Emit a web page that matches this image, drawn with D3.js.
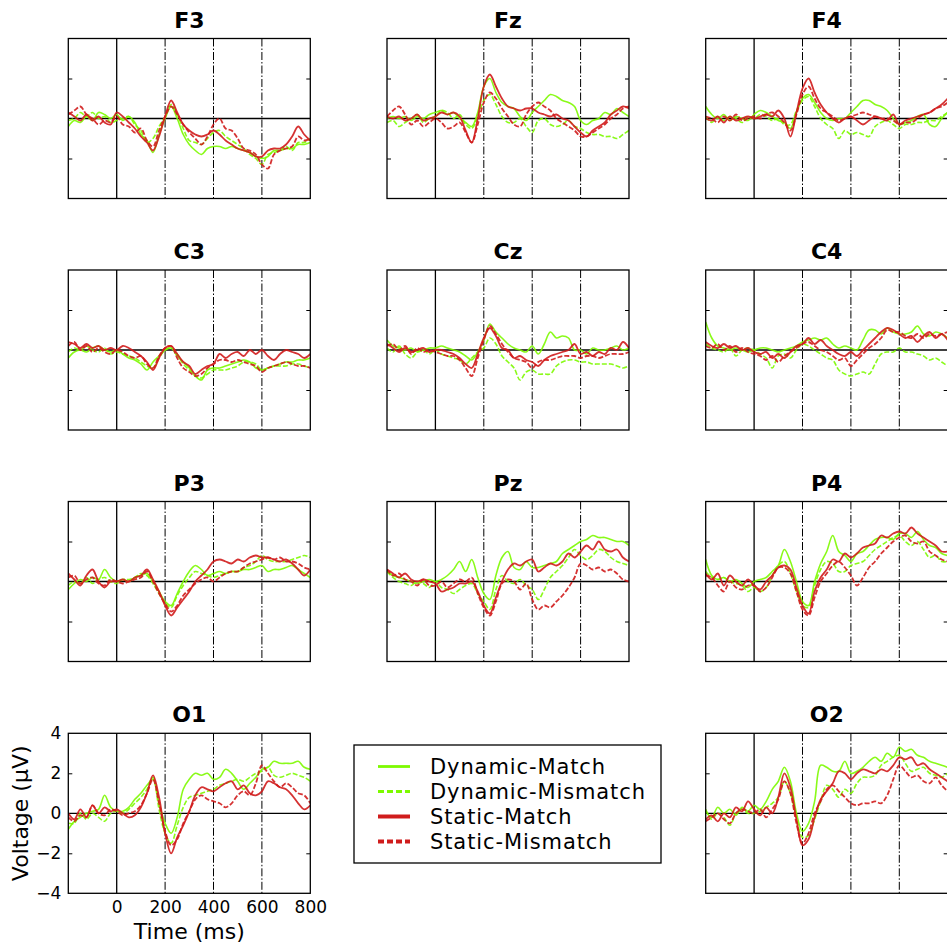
<!DOCTYPE html>
<html>
<head>
<meta charset="utf-8">
<script src="https://cdn.jsdelivr.net/npm/d3@7/dist/d3.min.js"></script>
<style>
  body { margin: 0; background: #fff; }
  svg { display: block; font-family: "DejaVu Sans", sans-serif; }
</style>
</head>
<body>
<div id="chart"></div>
<script>
// time axis (ms), one sample every 25 ms
const times = [-200,-175,-150,-125,-100,-75,-50,-25,0,25,50,75,100,125,150,175,200,225,250,275,300,
  325,350,375,400,425,450,475,500,525,550,575,600,625,650,675,700,725,750,775,800];

const conditions = ["Dynamic-Match", "Dynamic-Mismatch", "Static-Match", "Static-Mismatch"];
const xTicks = [0, 200, 400, 600, 800];
const yTicks = [-4, -2, 0, 2, 4];

// F3
const f3DM  = [-0.4,-0.1,-0.2,0.1,-0.1,0.3,0.2,0.0,0.2,-0.1,0.1,-0.2,-0.8,-1.1,-1.7,-0.8,0.0,0.6,0.0,-0.8,-1.3,-1.6,-1.8,-1.5,-1.4,-1.4,-1.5,-1.4,-1.5,-1.6,-1.7,-1.9,-2.0,-1.9,-1.6,-1.6,-1.5,-1.5,-1.3,-1.3,-1.2];
const f3DMM = [-0.1,0.0,0.3,0.1,0.3,0.0,0.1,-0.2,-0.1,0.0,0.1,-0.3,-0.6,-1.2,-1.0,-0.4,0.1,0.7,0.2,-0.5,-1.1,-1.2,-1.3,-1.0,-0.7,-0.6,-0.9,-1.1,-1.3,-1.5,-1.8,-2.0,-2.3,-1.8,-1.7,-1.6,-1.4,-1.6,-1.2,-1.2,-1.0];
const f3SM  = [0.3,0.1,-0.1,0.2,-0.1,0.1,-0.2,-0.3,0.3,0.1,-0.2,-0.5,-0.9,-1.2,-1.6,-0.9,0.1,0.9,0.3,-0.3,-0.6,-0.8,-0.9,-0.8,-0.6,-0.8,-1.1,-1.3,-1.5,-1.6,-1.7,-1.9,-1.9,-1.6,-1.5,-1.5,-1.3,-0.9,-0.4,-0.8,-1.1];
const f3SMM = [0.2,0.4,0.6,0.2,0.0,-0.3,-0.1,-0.2,0.1,-0.3,-0.4,-0.7,-0.5,-1.1,-1.4,-0.6,0.1,0.6,0.2,-0.3,-0.7,-1.0,-1.3,-0.9,-0.3,0.0,-0.5,-0.6,-1.0,-1.5,-1.6,-1.8,-2.3,-2.5,-1.8,-1.6,-1.5,-1.4,-0.9,-1.1,-1.0];
// Fz
const fzDM  = [0.0,0.1,0.0,0.1,-0.1,0.1,0.0,0.2,0.3,0.4,0.2,0.3,0.0,-0.2,-0.4,0.3,1.6,2.0,1.3,0.8,0.6,0.5,0.1,-0.1,0.3,0.6,0.9,1.2,1.1,0.9,0.8,0.6,-0.1,-0.3,-0.1,0.0,0.3,0.2,0.5,0.3,0.1];
const fzDMM = [-0.2,-0.1,-0.4,-0.2,0.0,0.2,-0.2,0.0,0.1,0.4,0.3,0.0,0.2,-0.3,-0.5,0.1,0.9,1.2,0.7,0.1,-0.2,-0.2,0.0,-0.4,-0.7,-0.1,0.0,-0.3,-0.4,-0.3,-0.1,-0.4,-0.5,-0.7,-0.8,-0.8,-0.9,-0.9,-1.0,-0.8,-0.6];
const fzSM  = [0.1,0.0,0.1,-0.1,0.0,0.2,-0.1,0.0,0.1,0.3,0.2,0.3,0.1,-0.6,-1.2,0.0,1.6,2.2,1.6,1.0,0.6,0.5,0.4,0.5,0.5,0.3,0.2,0.1,0.2,0.0,-0.1,-0.4,-0.7,-0.9,-0.6,-0.4,-0.2,0.2,0.4,0.6,0.5];
const fzSMM = [0.1,0.4,0.6,0.2,-0.3,-0.1,-0.4,-0.2,0.0,-0.2,-0.5,-0.4,-0.2,-0.7,-1.2,-0.3,0.8,1.3,1.0,0.5,0.1,-0.3,-0.4,0.2,0.6,0.8,0.6,0.4,0.0,-0.2,-0.4,-0.6,-0.9,-0.9,-0.7,-0.5,-0.3,0.0,0.2,0.5,0.6];
// F4
const f4DM  = [0.6,0.2,0.0,0.2,-0.1,0.1,0.0,-0.1,0.2,0.4,0.3,0.1,-0.1,-0.2,-0.5,0.3,1.0,1.2,0.8,0.3,0.0,-0.1,0.0,0.0,0.3,0.6,0.9,0.9,0.7,0.6,0.4,0.0,-0.3,-0.2,-0.1,0.1,0.2,-0.3,-0.4,0.0,0.3];
const f4DMM = [0.1,-0.2,0.1,-0.1,0.1,0.0,-0.2,0.1,0.0,0.2,0.1,-0.1,0.0,-0.3,-0.3,0.4,0.9,1.1,0.6,0.0,-0.3,-0.5,-1.0,-0.6,-0.8,-0.7,-0.8,-0.9,-0.4,-0.2,-0.1,-0.3,-0.5,-0.3,-0.3,-0.2,-0.2,-0.1,-0.1,0.1,0.3];
const f4SM  = [0.0,-0.1,0.1,-0.2,0.1,-0.1,0.0,0.1,0.0,0.1,0.2,0.1,0.4,0.0,-0.9,0.3,1.5,2.0,1.3,0.7,0.3,0.0,-0.2,0.0,0.1,-0.1,-0.3,-0.1,0.1,0.0,-0.1,0.2,-0.3,-0.1,0.0,0.1,0.2,0.3,0.5,0.7,1.0];
const f4SMM = [0.1,0.0,-0.2,0.1,-0.1,0.2,-0.1,0.0,0.1,0.0,0.2,0.3,0.1,-0.2,-0.6,0.2,1.2,1.6,1.0,0.5,0.3,0.1,-0.1,0.0,0.1,0.2,0.3,0.2,0.1,0.0,0.0,-0.1,-0.3,-0.2,-0.2,0.0,0.2,0.3,0.5,0.6,0.8];
// C3
const c3DM  = [-0.4,-0.1,0.0,-0.1,0.1,0.2,0.0,-0.1,0.0,-0.2,-0.4,-0.5,-0.7,-1.0,-0.6,-0.3,0.0,0.1,-0.3,-0.6,-0.9,-1.3,-1.5,-1.0,-0.9,-0.9,-0.8,-0.7,-0.6,-0.5,-0.6,-0.9,-1.0,-0.9,-0.8,-0.7,-0.6,-0.6,-0.5,-0.5,-0.4];
const c3DMM = [-0.1,0.1,0.0,0.2,0.0,-0.1,0.1,-0.2,-0.1,-0.2,-0.3,-0.4,-0.6,-0.8,-0.9,-0.4,0.0,0.1,-0.2,-0.7,-1.0,-1.3,-1.4,-1.2,-1.0,-1.0,-1.0,-0.9,-0.8,-0.6,-0.6,-0.7,-1.0,-0.9,-0.8,-0.8,-0.8,-0.7,-0.7,-0.8,-0.9];
const c3SM  = [0.4,0.3,0.1,0.3,0.1,0.2,0.0,0.1,0.0,0.2,0.1,-0.1,-0.3,-0.6,-1.0,-0.4,0.1,0.2,-0.2,-0.6,-0.8,-1.2,-1.0,-0.8,-0.7,-0.2,-0.4,-0.2,-0.1,-0.3,0.0,-0.2,0.0,-0.3,-0.5,-0.2,0.0,-0.1,-0.2,-0.4,-0.2];
const c3SMM = [0.2,0.4,0.0,0.2,-0.1,0.1,-0.1,-0.2,0.0,-0.1,-0.3,-0.4,-0.3,-0.7,-0.9,-0.3,0.1,0.2,-0.4,-0.9,-1.1,-1.3,-1.2,-0.9,-0.7,-0.5,-0.5,-0.6,-0.5,-0.6,-0.7,-0.8,-1.1,-0.9,-0.8,-0.7,-0.6,-0.7,-0.8,-0.8,-0.9];
// Cz
const czDM  = [0.5,0.2,0.1,0.0,0.1,-0.1,0.0,0.1,0.1,0.2,0.1,0.0,-0.1,-0.3,-0.5,-0.1,0.5,1.3,0.9,0.6,0.3,0.1,0.0,-0.1,0.2,-0.2,0.3,0.9,0.6,0.7,0.6,0.0,0.0,-0.2,0.1,0.0,0.0,0.1,0.2,0.0,0.1];
const czDMM = [0.1,-0.1,0.2,-0.2,-0.4,-0.1,0.0,-0.2,0.0,-0.2,-0.3,-0.4,-0.5,-0.7,-0.4,-0.1,0.1,0.6,0.3,-0.3,-0.6,-0.9,-1.5,-1.1,-1.0,-1.2,-1.2,-1.2,-0.8,-0.6,-0.5,-0.5,-0.6,-0.6,-0.7,-0.7,-0.7,-0.7,-0.8,-0.9,-0.8];
const czSM  = [0.3,0.1,-0.1,0.1,-0.1,0.0,0.1,-0.1,0.0,0.0,-0.1,-0.2,-0.4,-0.7,-0.9,-0.2,0.6,1.1,0.7,0.1,0.0,-0.4,-0.3,-0.5,-0.6,-0.8,-0.5,-0.3,-0.2,-0.1,0.0,0.3,-0.2,-0.1,-0.3,-0.1,-0.2,0.1,0.0,0.4,0.1];
const czSMM = [0.2,0.3,0.0,0.2,-0.2,0.1,-0.1,0.0,-0.1,-0.2,-0.3,-0.3,-0.5,-0.9,-1.3,-0.4,0.5,1.2,0.8,0.3,-0.1,-0.4,-0.5,-0.6,-0.9,-0.6,-0.5,-0.5,-0.4,-0.3,-0.3,-0.3,-0.4,-0.3,-0.3,-0.4,-0.3,-0.2,-0.2,-0.2,-0.1];
// C4
const c4DM  = [1.4,0.6,0.2,0.1,0.0,0.1,0.0,-0.1,0.0,0.1,0.1,0.0,-0.1,0.0,0.1,0.2,0.4,0.5,0.6,0.5,0.6,0.3,0.1,0.2,0.1,0.0,0.5,1.0,1.0,0.8,1.1,0.9,0.8,0.8,0.9,1.2,0.8,0.7,0.9,0.8,0.6];
const c4DMM = [0.3,0.1,0.0,-0.1,0.1,-0.3,0.0,0.1,0.0,-0.2,-0.4,-0.9,-0.3,-0.2,-0.4,0.0,0.3,0.2,0.0,-0.2,-0.4,-0.5,-1.0,-1.2,-1.3,-1.2,-1.1,-1.2,-0.7,-0.2,-0.1,-0.1,0.1,-0.1,-0.1,-0.2,-0.3,-0.5,-0.4,-0.6,-0.8];
const c4SM  = [0.4,0.2,0.1,0.3,0.1,0.2,0.0,0.1,-0.1,-0.2,-0.1,-0.4,-0.2,-0.4,-0.1,0.2,0.3,0.6,0.3,0.5,0.2,0.0,-0.2,-0.3,-0.1,-0.3,0.0,0.3,0.6,0.9,1.1,1.0,0.8,0.6,0.7,0.4,0.7,0.9,0.6,0.8,0.5];
const c4SMM = [0.2,0.1,0.3,0.0,0.2,-0.1,0.1,-0.1,-0.2,-0.3,-0.5,-0.3,-0.6,-0.3,-0.1,0.1,0.3,0.4,0.2,0.0,-0.1,-0.3,-0.5,-0.4,-0.8,-0.5,-0.2,0.1,0.3,0.6,1.0,0.9,0.9,0.7,0.6,0.8,0.6,0.8,0.7,0.8,0.9];
// P3
const p3DM  = [-0.4,-0.1,0.1,0.0,0.2,0.1,0.6,0.2,0.0,0.1,0.0,0.2,0.3,0.4,0.0,-0.5,-1.0,-1.2,-0.6,0.0,0.5,0.8,0.6,0.3,0.4,0.5,0.4,0.5,0.5,0.6,0.6,0.7,0.8,0.5,0.6,0.6,0.7,0.8,0.6,0.4,0.2];
const p3DMM = [-0.2,0.0,-0.1,0.2,-0.1,0.1,0.2,0.0,-0.1,0.1,0.1,0.2,0.4,0.3,-0.1,-0.6,-1.1,-1.3,-0.7,-0.2,0.2,0.5,0.4,0.3,0.2,0.3,0.4,0.5,0.5,0.7,0.8,1.0,1.3,1.1,1.0,1.0,1.0,1.1,1.2,1.3,1.2];
const p3SM  = [0.4,0.1,-0.2,0.3,0.6,0.0,-0.3,0.0,0.0,0.1,0.0,0.2,0.3,0.6,0.1,-0.5,-1.2,-1.7,-1.3,-0.9,-0.5,0.0,0.3,0.6,1.0,1.1,1.0,0.9,1.1,1.0,1.2,1.3,1.2,1.2,1.1,1.0,1.1,0.9,0.6,0.3,0.6];
const p3SMM = [0.2,0.3,-0.1,0.1,0.2,-0.1,-0.2,0.1,0.0,-0.1,0.0,0.1,0.2,0.5,0.0,-0.6,-1.1,-1.5,-1.2,-0.7,-0.4,-0.1,0.1,0.2,0.0,0.2,0.4,0.5,0.5,0.7,0.9,1.0,1.1,1.2,1.1,1.2,1.0,1.0,0.9,0.7,0.6];
// Pz
const pzDM  = [0.5,0.3,0.2,0.1,0.0,-0.1,0.0,0.1,0.0,0.1,0.3,0.6,1.0,0.5,1.1,0.2,-0.6,-0.9,0.3,1.2,1.5,0.7,0.6,1.0,0.7,0.7,0.8,0.9,1.0,1.4,1.6,1.8,2.0,2.1,2.3,2.2,2.2,2.1,2.0,2.0,1.8];
const pzDMM = [0.5,0.2,0.0,-0.1,-0.2,0.0,-0.1,-0.3,0.0,-0.3,-0.4,-0.6,-0.4,-0.2,-0.1,-0.6,-1.0,-1.4,-0.4,0.3,0.0,-0.1,0.1,-0.2,-0.4,-0.9,-0.4,0.2,0.5,0.8,1.2,1.6,1.3,1.1,1.3,1.6,1.5,1.2,1.0,0.9,0.8];
const pzSM  = [0.6,0.4,0.2,0.4,0.1,0.0,0.1,0.0,-0.1,-0.5,-0.4,-0.3,-0.1,-0.1,0.0,-0.5,-1.2,-1.6,-0.8,0.0,0.6,0.9,0.8,1.0,1.1,0.5,0.7,0.9,0.8,1.0,1.4,1.2,1.5,1.8,1.6,2.0,1.6,1.5,1.6,1.2,1.0];
const pzSMM = [0.6,0.3,0.4,0.1,0.0,-0.2,0.1,-0.2,-0.2,0.0,-0.3,-0.1,0.1,0.0,0.2,-0.6,-1.3,-1.7,-1.0,-0.1,0.1,0.0,-0.4,-0.1,-0.9,-1.4,-1.2,-1.3,-1.0,-0.7,-0.3,0.2,0.9,0.8,0.6,0.7,0.5,0.6,0.4,0.1,0.0];
// P4
const p4DM  = [1.1,0.3,0.1,0.2,0.0,0.1,-0.1,-0.3,0.0,0.1,0.2,0.5,0.8,1.6,1.0,0.0,-1.0,-1.2,0.0,0.9,1.5,2.3,1.5,1.3,1.0,1.4,1.5,1.8,2.1,2.2,2.2,2.1,2.4,2.4,2.2,2.5,2.1,1.8,1.7,1.4,1.3];
const p4DMM = [0.5,0.2,0.1,0.2,0.0,-0.1,-0.2,-0.5,-0.3,-0.5,-0.3,0.3,0.8,1.0,0.4,-0.5,-1.2,-1.3,-0.2,0.6,1.0,0.9,0.5,0.5,0.8,0.9,1.0,1.3,1.6,1.8,2.0,2.2,2.3,2.0,1.8,2.0,1.6,1.2,1.3,1.0,1.0];
const p4SM  = [0.4,0.1,0.4,-0.2,0.3,0.0,-0.2,0.1,-0.2,-0.4,0.0,0.3,0.7,0.8,0.6,-0.3,-1.2,-1.6,-0.5,0.2,0.6,1.1,1.0,1.4,1.2,1.4,1.7,1.8,1.9,2.3,2.2,2.4,2.5,2.4,2.7,2.4,2.2,2.0,1.8,1.5,1.5];
const p4SMM = [0.3,0.2,-0.2,-0.5,0.0,-0.3,-0.4,-0.2,-0.2,-0.5,-0.3,0.2,0.7,0.7,0.4,-0.5,-1.4,-1.7,-0.8,0.0,0.4,0.8,1.0,0.7,0.3,-0.2,0.2,0.7,1.0,1.4,1.7,2.0,2.2,2.3,2.0,1.9,2.0,1.5,1.3,1.1,1.0];
// O1
const o1DM  = [-0.8,-0.4,-0.2,0.0,0.1,0.2,0.9,0.3,0.1,0.1,0.3,0.7,1.0,1.4,1.7,0.5,-0.5,-1.0,-0.2,1.2,1.7,2.0,1.9,2.0,1.7,1.8,2.2,2.0,1.6,1.2,1.5,1.8,2.2,2.3,2.6,2.5,2.5,2.5,2.6,2.3,2.2];
const o1DMM = [-0.5,-0.5,0.0,-0.3,0.0,-0.2,-0.4,0.0,0.1,0.0,0.2,0.5,0.8,1.2,1.8,0.2,-1.0,-1.5,-0.6,0.3,0.8,0.9,1.0,1.1,1.2,1.4,1.5,1.6,1.7,1.6,1.8,2.0,2.1,2.3,1.9,1.8,1.9,2.0,1.9,1.8,1.6];
const o1SM  = [0.0,-0.3,0.2,-0.2,0.4,0.0,0.3,0.1,0.2,0.0,-0.2,-0.1,0.3,1.0,1.9,0.8,-1.0,-2.0,-1.2,-0.6,0.1,0.9,1.3,1.2,1.1,1.3,1.5,1.6,1.2,1.4,1.0,0.9,1.1,1.6,1.5,1.3,1.2,0.9,0.5,0.2,0.4];
const o1SMM = [-0.2,-0.4,-0.1,-0.2,0.4,0.0,-0.1,0.2,0.1,-0.1,0.0,0.1,0.4,1.0,1.7,0.5,-0.9,-1.6,-1.3,-0.5,0.1,0.7,0.9,0.7,0.6,0.5,0.3,0.5,0.9,1.1,0.9,1.5,2.4,2.0,1.6,1.3,1.5,1.3,1.0,0.9,0.5];
// O2
const o2DM  = [0.1,-0.2,0.3,0.0,0.2,-0.1,0.3,0.1,0.4,0.2,0.6,1.2,1.6,2.3,1.6,0.0,-0.9,-0.5,0.6,2.4,2.3,2.1,2.1,2.6,2.0,2.1,2.3,2.6,2.8,2.6,3.0,2.8,3.3,3.1,3.2,2.9,2.8,2.6,2.5,2.4,2.3];
const o2DMM = [0.2,-0.3,0.0,-0.2,-0.6,0.0,0.2,0.0,0.0,0.1,0.3,0.5,0.8,1.6,1.0,-0.2,-1.2,-1.1,-0.3,0.6,1.4,1.2,0.8,1.2,1.0,1.5,1.8,1.8,1.9,2.4,2.6,2.8,2.9,2.5,2.1,2.2,2.3,2.0,1.9,1.8,2.0];
const o2SM  = [-0.3,-0.1,-0.4,0.0,-0.2,0.3,0.1,0.6,0.2,-0.1,0.3,0.0,0.8,2.0,1.3,-0.3,-1.6,-1.3,-0.2,0.7,1.1,1.5,2.1,2.0,1.7,2.0,2.2,2.1,2.0,2.2,2.1,2.4,2.8,2.7,2.8,2.4,2.5,2.2,2.0,1.8,1.6];
const o2SMM = [-0.4,-0.2,0.0,-0.3,-0.5,0.0,0.2,0.1,0.0,0.2,-0.2,0.2,0.7,1.6,1.0,-0.5,-1.5,-1.0,0.0,0.6,1.2,1.4,1.1,0.8,0.5,0.4,0.5,0.5,0.6,0.5,0.9,1.7,2.4,2.1,1.8,1.9,1.6,1.5,1.8,1.4,1.1];

// grid of channels (row, col)
const channels = [
  {name: "F3", row: 0, col: 0, series: [f3DM, f3DMM, f3SM, f3SMM]},
  {name: "Fz", row: 0, col: 1, series: [fzDM, fzDMM, fzSM, fzSMM]},
  {name: "F4", row: 0, col: 2, series: [f4DM, f4DMM, f4SM, f4SMM]},
  {name: "C3", row: 1, col: 0, series: [c3DM, c3DMM, c3SM, c3SMM]},
  {name: "Cz", row: 1, col: 1, series: [czDM, czDMM, czSM, czSMM]},
  {name: "C4", row: 1, col: 2, series: [c4DM, c4DMM, c4SM, c4SMM]},
  {name: "P3", row: 2, col: 0, series: [p3DM, p3DMM, p3SM, p3SMM]},
  {name: "Pz", row: 2, col: 1, series: [pzDM, pzDMM, pzSM, pzSMM]},
  {name: "P4", row: 2, col: 2, series: [p4DM, p4DMM, p4SM, p4SMM]},
  {name: "O1", row: 3, col: 0, series: [o1DM, o1DMM, o1SM, o1SMM]},
  {name: "O2", row: 3, col: 2, series: [o2DM, o2DMM, o2SM, o2SMM]}
];

const W = 947, H = 946;
const pw = 242, ph = 160;
const colX = [68.3, 387, 705.7];
const rowY = [38.5, 270, 501.5, 733.3];

const green = "#7dfa00", red = "#d01c1c";
const style = [
  {color: green, width: 1.6, dash: null},
  {color: green, width: 1.6, dash: "5,2"},
  {color: red, width: 1.8, dash: null},
  {color: red, width: 1.8, dash: "5,2"}
];

const svg = d3.select("#chart").append("svg")
  .attr("width", W).attr("height", H);

const x = d3.scaleLinear().domain([-200, 800]).range([0, pw]);
const y = d3.scaleLinear().domain([-4, 4]).range([ph, 0]);

const line = d3.line()
  .x((d, i) => x(times[i]))
  .y(d => y(d))
  .curve(d3.curveCatmullRom.alpha(0.5));

channels.forEach((ch, k) => {
  const g = svg.append("g")
    .attr("transform", `translate(${colX[ch.col]},${rowY[ch.row]})`);

  g.append("clipPath").attr("id", "clip" + k)
    .append("rect").attr("width", pw).attr("height", ph);

  // title
  g.append("text")
    .attr("x", pw / 2).attr("y", -11)
    .attr("text-anchor", "middle")
    .attr("font-size", 22).attr("font-weight", "bold")
    .text(ch.name);

  // vertical reference lines
  g.selectAll(".vline")
    .data(xTicks.filter(t => t < 800))
    .enter().append("line")
    .attr("x1", d => x(d)).attr("x2", d => x(d))
    .attr("y1", 0).attr("y2", ph)
    .attr("stroke", "#000")
    .attr("stroke-width", d => d === 0 ? 1.3 : 1)
    .attr("stroke-dasharray", d => d === 0 ? null : "8,2,1.5,2");

  // zero line
  g.append("line")
    .attr("x1", 0).attr("x2", pw)
    .attr("y1", y(0)).attr("y2", y(0))
    .attr("stroke", "#000").attr("stroke-width", 1.3);

  // inner ticks on both sides
  g.append("g")
    .call(d3.axisLeft(y).tickValues([-2, 2]).tickSize(-4).tickFormat(""))
    .call(a => a.select(".domain").remove());
  g.append("g")
    .attr("transform", `translate(${pw},0)`)
    .call(d3.axisRight(y).tickValues([-2, 2]).tickSize(-4).tickFormat(""))
    .call(a => a.select(".domain").remove());

  // traces
  g.append("g").attr("clip-path", `url(#clip${k})`)
    .selectAll("path")
    .data(ch.series)
    .enter().append("path")
    .attr("d", line)
    .attr("fill", "none")
    .attr("stroke", (d, i) => style[i].color)
    .attr("stroke-width", (d, i) => style[i].width)
    .attr("stroke-dasharray", (d, i) => style[i].dash)
    .attr("stroke-linejoin", "round")
    .attr("opacity", 0.9);

  // frame
  g.append("rect")
    .attr("width", pw).attr("height", ph)
    .attr("fill", "none").attr("stroke", "#000").attr("stroke-width", 1.3);

  // axes labels only on O1
  if (ch.name === "O1") {
    g.append("g")
      .call(d3.axisLeft(y).tickValues(yTicks).tickSize(0).tickPadding(7))
      .call(a => a.select(".domain").remove())
      .selectAll("text")
      .attr("font-size", 17).attr("font-family", "DejaVu Sans").attr("fill", "#000");
    g.append("g")
      .attr("transform", `translate(0,${ph})`)
      .call(d3.axisBottom(x).tickValues(xTicks).tickSize(0).tickPadding(8))
      .call(a => a.select(".domain").remove())
      .selectAll("text")
      .attr("font-size", 17).attr("font-family", "DejaVu Sans").attr("fill", "#000");
    g.append("text")
      .attr("transform", `translate(-40,${ph / 2}) rotate(-90)`)
      .attr("text-anchor", "middle")
      .attr("font-size", 22)
      .text("Voltage (µV)");
    g.append("text")
      .attr("x", pw / 2).attr("y", ph + 46)
      .attr("text-anchor", "middle")
      .attr("font-size", 22)
      .text("Time (ms)");
  }
});

// legend
const lg = svg.append("g").attr("transform", "translate(354,745)");
lg.append("rect")
  .attr("width", 307).attr("height", 118)
  .attr("fill", "#fff").attr("stroke", "#000").attr("stroke-width", 1.3);
const rows = lg.selectAll(".row")
  .data(conditions)
  .enter().append("g")
  .attr("transform", (d, i) => `translate(0,${21.5 + i * 25})`);
rows.append("line")
  .attr("x1", 24).attr("x2", 56)
  .attr("stroke", (d, i) => style[i].color)
  .attr("stroke-width", (d, i) => i < 2 ? 2.8 : 4)
  .attr("stroke-dasharray", (d, i) => style[i].dash ? "6,3" : null);
rows.append("text")
  .attr("x", 76).attr("y", 7.5)
  .attr("font-size", 21)
  .attr("letter-spacing", 0.9)
  .text(d => d);
</script>
</body>
</html>
